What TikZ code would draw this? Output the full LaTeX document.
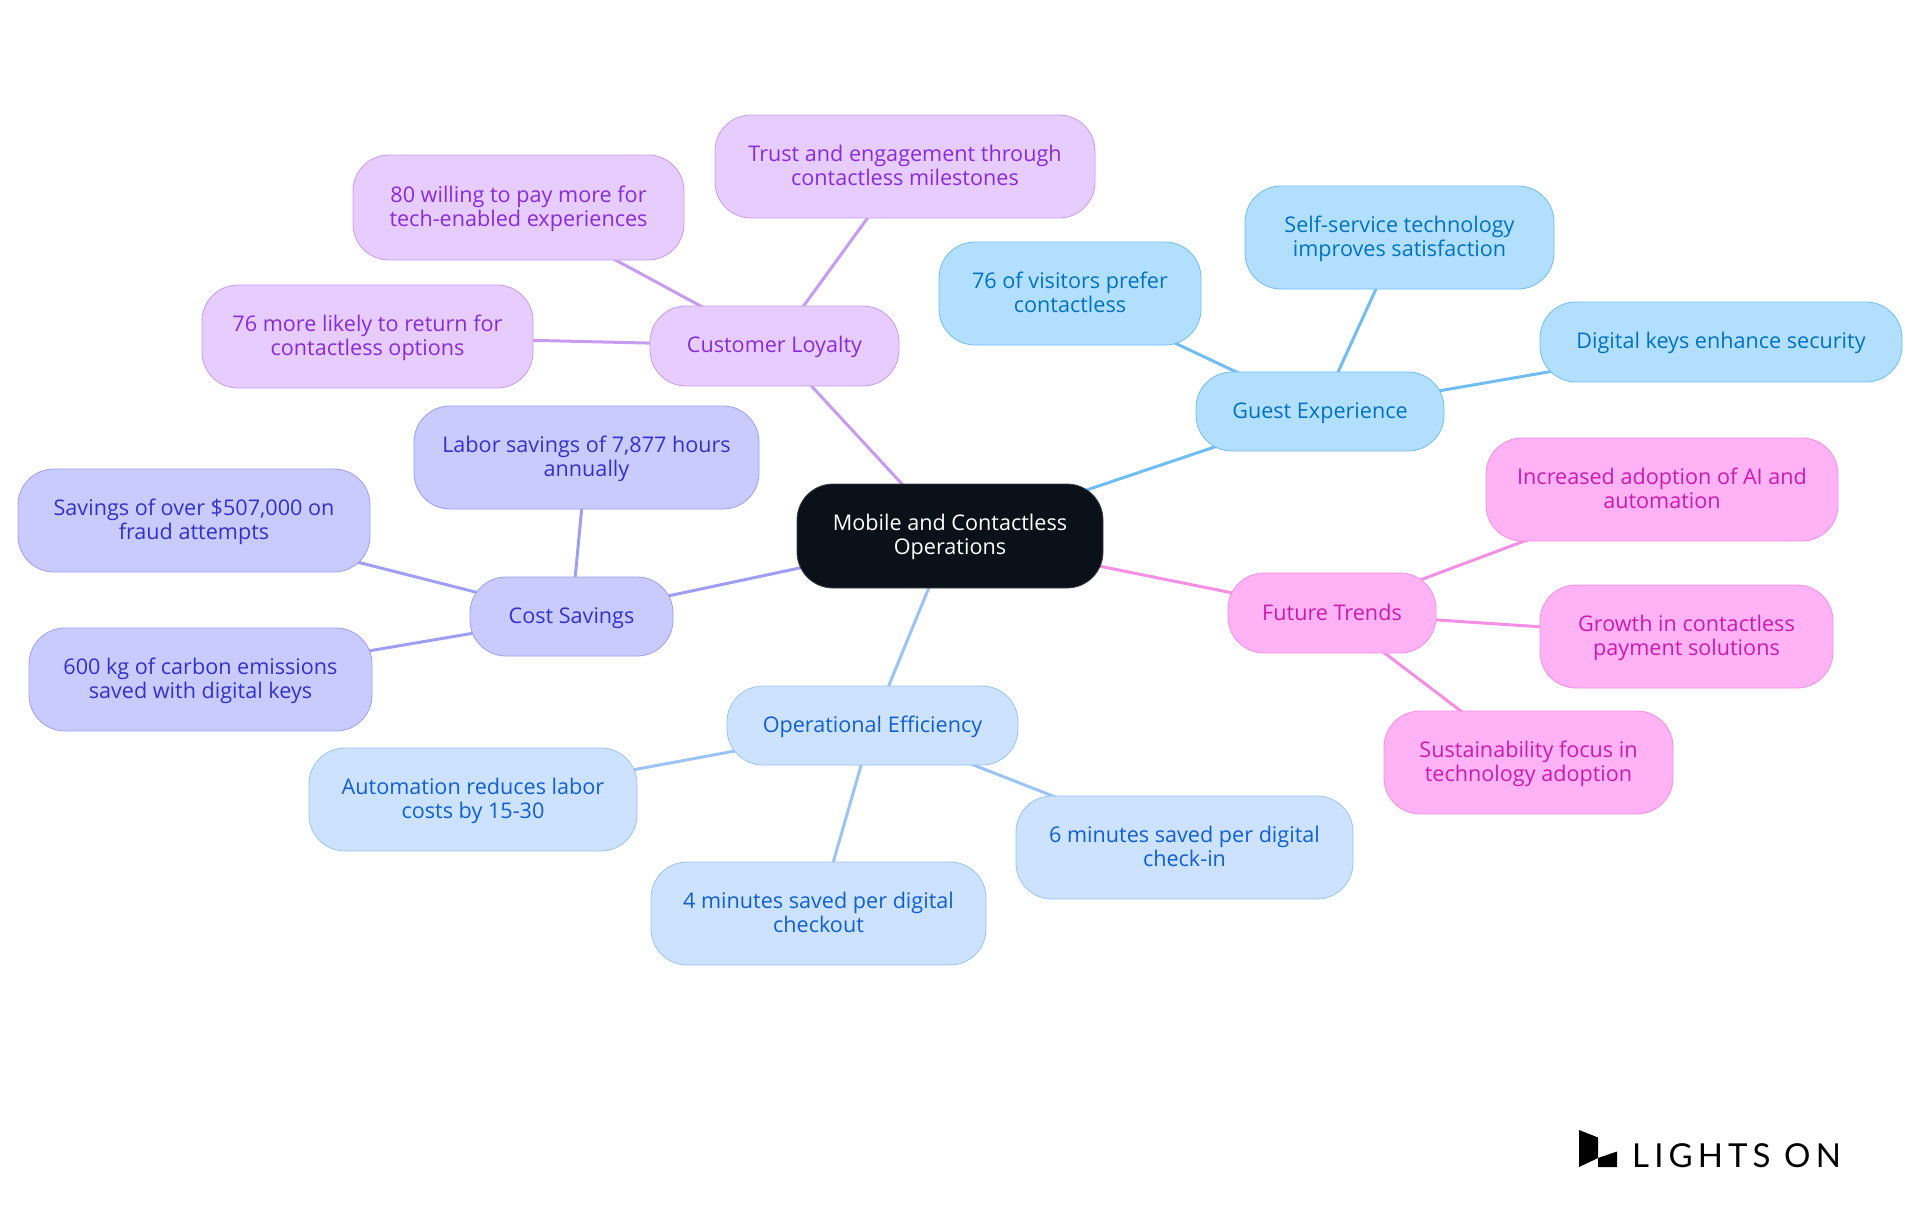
\documentclass[tikz,border=0pt]{standalone}
\usepackage{fontspec}
\setmainfont{Open Sans}
\newfontfamily\logofont[LetterSpace=15.5]{Lato}
\usetikzlibrary{backgrounds}
\definecolor{pf}{HTML}{E6CCFF}\definecolor{pl}{HTML}{C99BF0}\definecolor{pt}{HTML}{8A2BD9}
\definecolor{nf}{HTML}{C9CBFF}\definecolor{nl}{HTML}{9E9EF5}\definecolor{nt}{HTML}{3232C8}
\definecolor{of}{HTML}{CCE2FF}\definecolor{ol}{HTML}{99C4F5}\definecolor{ot}{HTML}{1060D0}
\definecolor{sf}{HTML}{B3DFFF}\definecolor{sl}{HTML}{70BDF2}\definecolor{st}{HTML}{0073C0}
\definecolor{mf}{HTML}{FFB3F5}\definecolor{ml}{HTML}{F58FE6}\definecolor{mt}{HTML}{CC1AB0}
\definecolor{rootc}{HTML}{0B1119}
\tikzset{
 x=1pt,y=-1pt,
 box/.style={rounded corners=36pt,align=center,inner sep=0pt,line width=0.8pt,font=\fontsize{21.6}{24}\selectfont},
 rootbox/.style={box,fill=rootc,draw=rootc!80!white,text=white},
 purp/.style={box,fill=pf,draw=pl,text=pt},
 indi/.style={box,fill=nf,draw=nl,text=nt},
 oper/.style={box,fill=of,draw=ol,text=ot},
 skyb/.style={box,fill=sf,draw=sl,text=st},
 magn/.style={box,fill=mf,draw=ml,text=mt},
 edge/.style={line width=3pt}
}
% name, x0, x1, y0, y1, style, text
\newcommand{\bx}[7]{%
 \pgfmathsetmacro{\cxx}{(#2+#3)/2}\pgfmathsetmacro{\cyy}{(#4+#5)/2}%
 \pgfmathsetmacro{\ww}{#3-#2}\pgfmathsetmacro{\hh}{#5-#4}%
 \node[#6,minimum width=\ww pt,minimum height=\hh pt] (#1) at (\cxx,\cyy) {\rule{0pt}{19pt}#7\rule[-5pt]{0pt}{5pt}};}
\begin{document}
\begin{tikzpicture}
\useasboundingbox (0,0) rectangle (1920,1215);
\bx{root}{797}{1103}{484}{588}{rootbox}{Mobile and Contactless\\Operations}
\bx{loyal}{650}{899}{306}{386}{purp}{Customer Loyalty}
\bx{trust}{715}{1095}{115}{218}{purp}{Trust and engagement through\\contactless milestones}
\bx{will}{353}{684}{155}{260}{purp}{80 willing to pay more for\\tech-enabled experiences}
\bx{ret}{202}{533}{285}{388}{purp}{76 more likely to return for\\contactless options}
\bx{cost}{470}{673}{577}{656}{indi}{Cost Savings}
\bx{labor}{414}{759}{406}{509}{indi}{Labor savings of 7,877 hours\\annually}
\bx{fraud}{18}{370}{469}{572}{indi}{Savings of over \$507,000 on\\fraud attempts}
\bx{carbon}{29}{372}{628}{731}{indi}{600 kg of carbon emissions\\saved with digital keys}
\bx{oper}{727}{1018}{686}{765}{oper}{Operational Efficiency}
\bx{auto}{309}{637}{748}{851}{oper}{Automation reduces labor\\costs by 15-30}
\bx{four}{651}{986}{862}{965}{oper}{4 minutes saved per digital\\checkout}
\bx{six}{1016}{1353}{796}{899}{oper}{6 minutes saved per digital\\check-in}
\bx{guest}{1196}{1444}{372}{451}{skyb}{Guest Experience}
\bx{visit}{939}{1201}{242}{345}{skyb}{76 of visitors prefer\\contactless}
\bx{self}{1245}{1554}{186}{289}{skyb}{Self-service technology\\improves satisfaction}
\bx{keys}{1540}{1902}{302}{382}{skyb}{Digital keys enhance security}
\bx{future}{1228}{1436}{573}{653}{magn}{Future Trends}
\bx{incr}{1486}{1838}{438}{541}{magn}{Increased adoption of AI and\\automation}
\bx{grow}{1540}{1833}{585}{688}{magn}{Growth in contactless\\payment solutions}
\bx{sust}{1384}{1673}{711}{814}{magn}{Sustainability focus in\\technology adoption}
\begin{scope}[on background layer]
\draw[edge,pl] (root.center)--(loyal.center) (loyal.center)--(trust.center) (loyal.center)--(will.center) (loyal.center)--(ret.center);
\draw[edge,nl] (root.center)--(cost.center) (cost.center)--(labor.center) (cost.center)--(fraud.center) (cost.center)--(carbon.center);
\draw[edge,ol] (root.center)--(oper.center) (oper.center)--(auto.center) (oper.center)--(four.center) (oper.center)--(six.center);
\draw[edge,sl] (root.center)--(guest.center) (guest.center)--(visit.center) (guest.center)--(self.center) (guest.center)--(keys.center);
\draw[edge,ml] (root.center)--(future.center) (future.center)--(incr.center) (future.center)--(grow.center) (future.center)--(sust.center);
\end{scope}
\fill[black] (1579,1130)--(1598,1137.5)--(1598,1158)--(1617,1151.5)--(1617,1167)--(1598,1167)--(1598,1158)--(1579,1167)--cycle;
\node[anchor=base west,inner sep=0pt,font=\logofont\fontsize{33}{33}\selectfont] (logo) at (1632,1167) {LIGHTS ON};
\end{tikzpicture}
\end{document}
